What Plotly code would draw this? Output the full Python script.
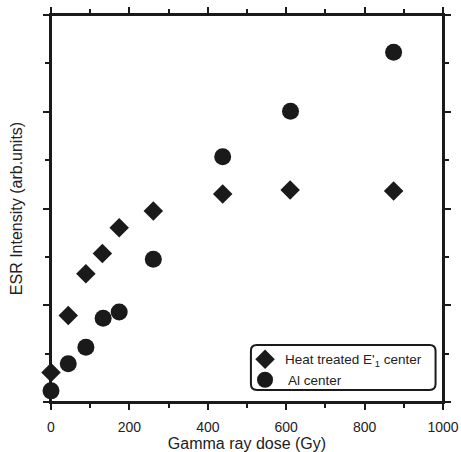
import plotly.graph_objects as go

dose_e1 = [0, 44, 89, 131, 174, 261, 438, 610, 874]
esr_e1 = [0.61, 1.79, 2.65, 3.07, 3.60, 3.95, 4.30, 4.38, 4.36]
dose_al = [0, 44, 89, 133, 174, 261, 438, 611, 874]
esr_al = [0.23, 0.79, 1.13, 1.73, 1.86, 2.95, 5.07, 6.01, 7.23]

name_e1 = "Heat treated E'<sub>1</sub> center"
name_al = " Al center"
x_title = "Gamma ray dose (Gy)"
y_title = "ESR Intensity (arb.units)"

XR = [0, 1000]
YR = [0, 8]
ink = "#1a1a1a"
font = "Liberation Sans, Arial, sans-serif"

fig = go.Figure()
fig.add_trace(go.Scatter(x=dose_e1, y=esr_e1, mode="markers", name=name_e1,
                         marker=dict(symbol="diamond", size=15, color=ink),
                         cliponaxis=False))
fig.add_trace(go.Scatter(x=dose_al, y=esr_al, mode="markers", name=name_al,
                         marker=dict(symbol="circle", size=17, color=ink),
                         cliponaxis=False))

common = dict(showgrid=False, zeroline=False, automargin=False,
              tickcolor=ink, tickwidth=2, mirror="allticks")

fig.update_layout(
    width=461, height=452,
    margin=dict(l=51, r=18, t=15, b=50),
    paper_bgcolor="white", plot_bgcolor="white",
    font=dict(family=font, size=14, color="#222"),
    xaxis=dict(range=XR, tickvals=[0, 200, 400, 600, 800, 1000], ticks="outside",
               ticklen=6, ticklabelstandoff=5, showline=True, linecolor=ink,
               linewidth=2,
               minor=dict(dtick=100, tick0=0, ticks="outside", ticklen=4,
                          tickcolor=ink, tickwidth=2),
               title=dict(text=x_title, font=dict(size=16), standoff=3),
               tickfont=dict(size=14), **common),
    yaxis=dict(range=YR, tickvals=[0, 2, 4, 6, 8], ticks="outside", ticklen=6,
               showticklabels=False, showline=True, linecolor=ink, linewidth=2,
               minor=dict(dtick=1, tick0=0, ticks="outside", ticklen=4,
                          tickcolor=ink, tickwidth=2),
               title=dict(text=y_title, font=dict(size=16), standoff=16),
               **common),
    xaxis2=dict(range=XR, overlaying="x", anchor="y", side="bottom",
                tickvals=[0, 200, 400, 600, 800, 1000], ticks="inside", ticklen=6,
                showticklabels=False, showline=False,
                minor=dict(dtick=100, tick0=0, ticks="inside", ticklen=4,
                           tickcolor=ink, tickwidth=2), **common),
    yaxis2=dict(range=YR, overlaying="y", anchor="x", side="left",
                tickvals=[0, 2, 4, 6, 8], ticks="inside", ticklen=6,
                showticklabels=False, showline=False,
                minor=dict(dtick=1, tick0=0, ticks="inside", ticklen=4,
                           tickcolor=ink, tickwidth=2), **common),
    legend=dict(x=0.495, y=0.150, xanchor="left", yanchor="top",
                bgcolor="rgba(0,0,0,0)", borderwidth=0,
                font=dict(size=13.5, color="#222"), tracegroupgap=0,
                itemwidth=30),
    showlegend=True,
)

# plot frame
fig.add_shape(type="rect", xref="paper", yref="paper", x0=0, x1=1, y0=0, y1=1,
              line=dict(color=ink, width=2), layer="above")

# rounded legend frame
x0, x1, y0, y1, r = 0.51, 0.981, 0.031, 0.147, 0.015
ry = r * 392 / 387
path = (f"M {x0+r},{y0} L {x1-r},{y0} Q {x1},{y0} {x1},{y0+ry} "
        f"L {x1},{y1-ry} Q {x1},{y1} {x1-r},{y1} L {x0+r},{y1} "
        f"Q {x0},{y1} {x0},{y1-ry} L {x0},{y0+ry} Q {x0},{y0} {x0+r},{y0} Z")
fig.add_shape(type="path", path=path, xref="paper", yref="paper",
              line=dict(color=ink, width=2), fillcolor="white", layer="below")

fig.write_html("out.html")
